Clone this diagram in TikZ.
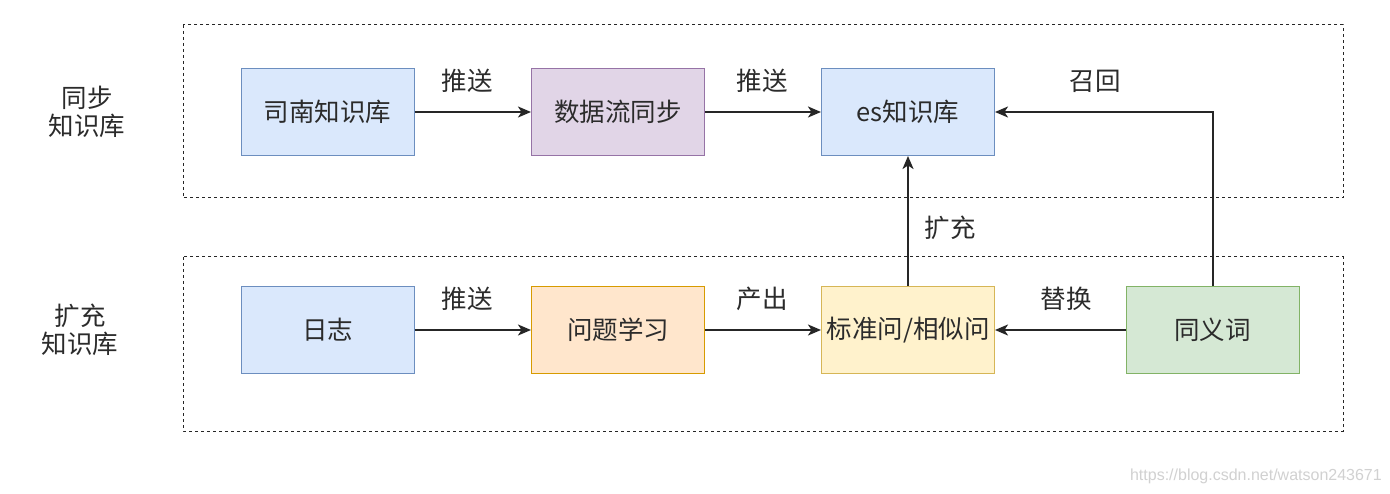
\documentclass[tikz,border=0pt]{standalone}
\usepackage{fontspec}
\setmainfont{Noto Sans CJK SC}
\newfontfamily\wmfont{Liberation Sans}
\usetikzlibrary{arrows.meta}
\definecolor{bfill}{HTML}{DAE8FC}\definecolor{bdraw}{HTML}{6C8EBF}
\definecolor{pfill}{HTML}{E1D5E7}\definecolor{pdraw}{HTML}{9673A6}
\definecolor{ofill}{HTML}{FFE6CC}\definecolor{odraw}{HTML}{D79B00}
\definecolor{yfill}{HTML}{FFF2CC}\definecolor{ydraw}{HTML}{D6B656}
\definecolor{gfill}{HTML}{D5E8D4}\definecolor{gdraw}{HTML}{82B366}
\definecolor{txt}{HTML}{2B2B2B}
\tikzset{
  box/.style={draw, line width=1pt, minimum width=173pt, minimum height=87pt, inner sep=0pt, font=\fontsize{25.5}{28}\selectfont, text=txt},
  lbl/.style={font=\fontsize{25.5}{28}\selectfont, text=txt, inner sep=0pt},
  grp/.style={draw=black!85, dash pattern=on 3pt off 3pt, line width=1pt},
  conn/.style={draw=black!85, line width=2pt, -{Stealth[length=13pt,width=11pt,inset=3.5pt]}},
}
\begin{document}
\begin{tikzpicture}[x=1pt,y=-1pt]
\useasboundingbox (0,0) rectangle (1390,494);
\fill[white] (0,0) rectangle (1390,494);
% groups
\draw[grp] (183,25) rectangle (1343,198);
\draw[grp] (183,257) rectangle (1343,431);
% side labels
\node[lbl, align=center] (sync) at (87,112) {同步\\知识库};
\node[lbl, align=center] (ext) at (80,330) {扩充\\知识库};
% top row
\node[box, fill=bfill, draw=bdraw] (sinan) at (327.5,112) {司南知识库};
\node[box, fill=pfill, draw=pdraw] (flow) at (618,112) {数据流同步};
\node[box, fill=bfill, draw=bdraw] (es) at (908,112) {es知识库};
% bottom row
\node[box, fill=bfill, draw=bdraw] (log) at (327.5,330) {日志};
\node[box, fill=ofill, draw=odraw] (learn) at (618,330) {问题学习};
\node[box, fill=yfill, draw=ydraw] (std) at (908,330) {标准问/相似问};
\node[box, fill=gfill, draw=gdraw] (syn) at (1212.5,330) {同义词};
% connectors
\draw[conn] (sinan) -- (flow);
\draw[conn] (flow) -- (es);
\draw[conn] (syn.north) |- (es.east);
\draw[conn] (std) -- (es);
\draw[conn] (log) -- (learn);
\draw[conn] (learn) -- (std);
\draw[conn] (syn) -- (std);
% labels
\node[lbl] (l1) at (467,81) {推送};
\node[lbl] (l2) at (762,81) {推送};
\node[lbl] (l3) at (1095,81) {召回};
\node[lbl] (l4) at (950,228) {扩充};
\node[lbl] (l5) at (467,299) {推送};
\node[lbl] (l6) at (762,299) {产出};
\node[lbl] (l7) at (1066,299) {替换};
% watermark
\node[font=\wmfont\fontsize{16}{18}\selectfont, text=black!18, anchor=east, inner sep=0pt] (wm) at (1382,476) {https://blog.csdn.net/watson243671};
\end{tikzpicture}
\end{document}
